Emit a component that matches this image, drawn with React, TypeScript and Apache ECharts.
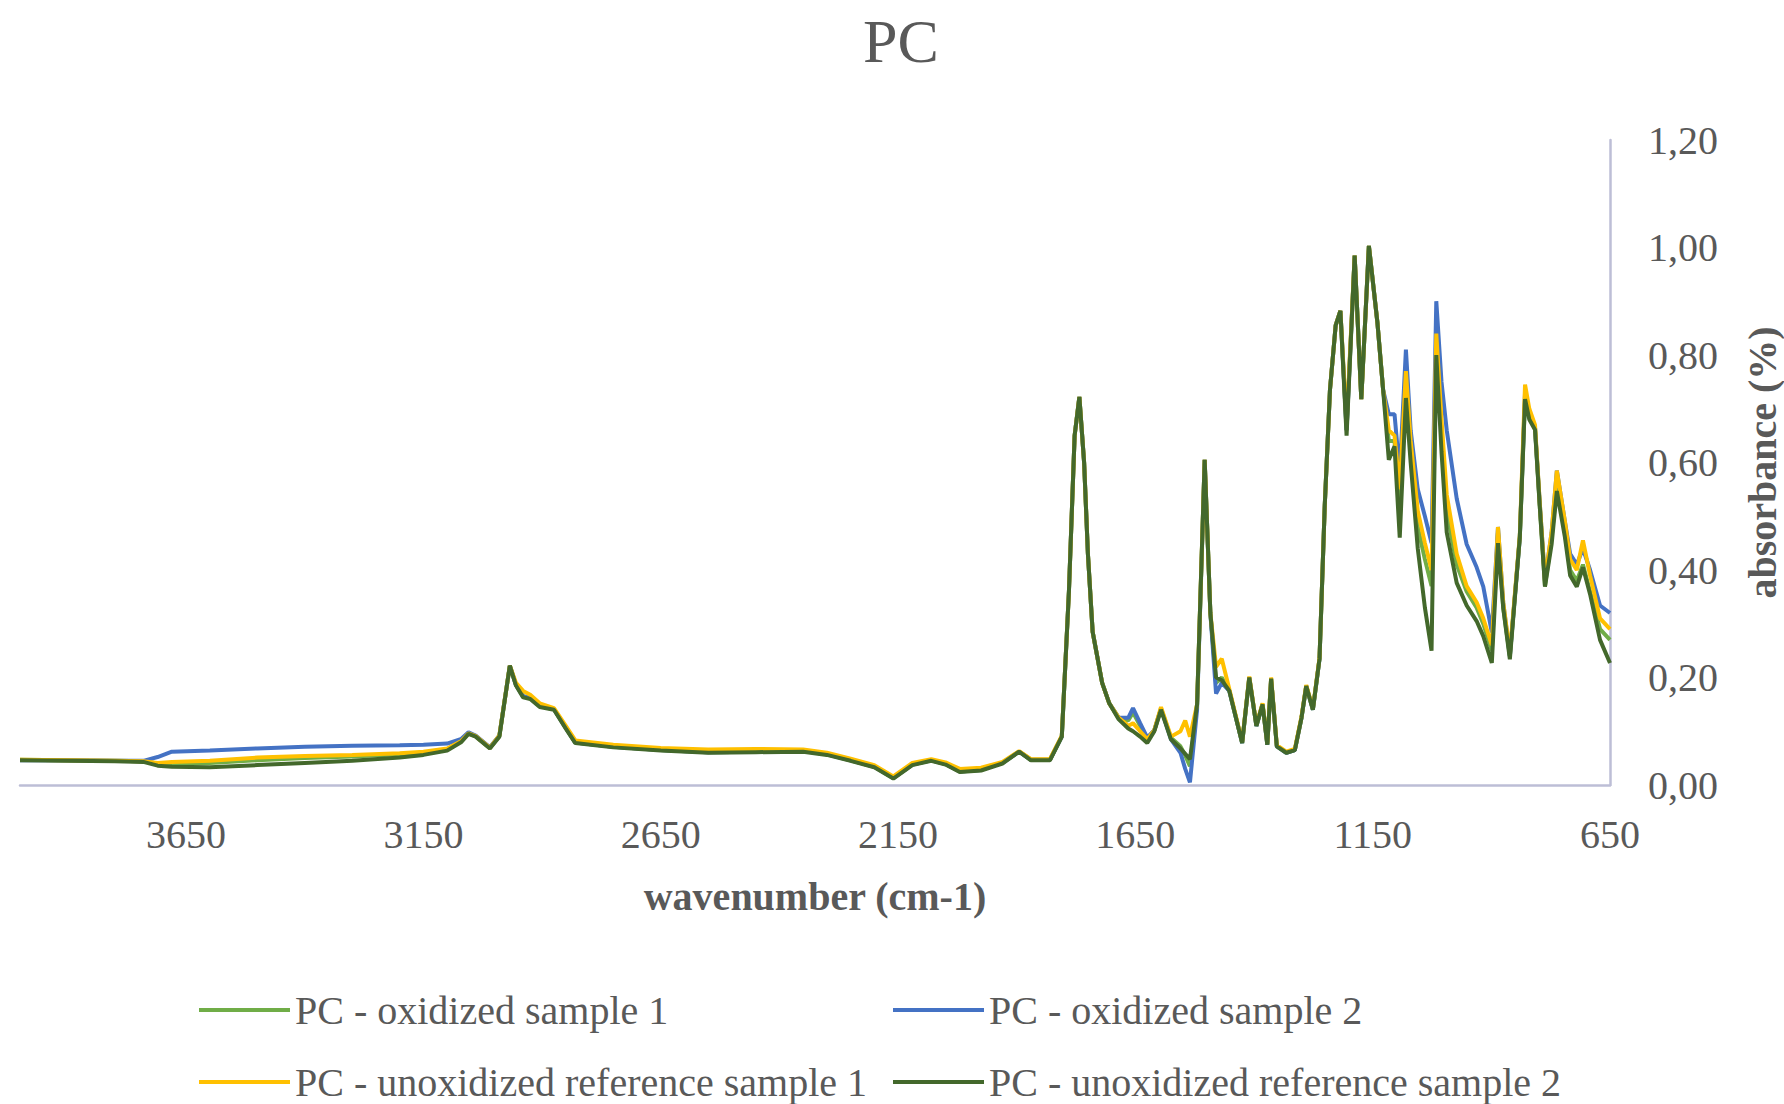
import React, { useEffect, useRef } from "react";
import * as echarts from "echarts";

const wavenumbers = [
  4000, 3900, 3800, 3740, 3710, 3680, 3600, 3500, 3400, 3300,
  3200, 3150, 3100, 3070, 3055, 3040, 3010, 2990, 2968, 2955,
  2940, 2925, 2905, 2875, 2850, 2830, 2750, 2650, 2550, 2450,
  2350, 2300, 2250, 2200, 2160, 2120, 2080, 2050, 2020, 1975,
  1930, 1895, 1870, 1830, 1805, 1790, 1778, 1768, 1758, 1750,
  1740, 1720, 1705, 1685, 1665, 1655, 1640, 1625, 1610, 1596,
  1575, 1555, 1545, 1535, 1520, 1504, 1492, 1480, 1468, 1452,
  1425, 1410, 1395, 1382, 1372, 1364, 1352, 1332, 1314, 1300,
  1290, 1276, 1262, 1251, 1240, 1228, 1218, 1205, 1188, 1174,
  1158, 1140, 1128, 1116, 1104, 1093, 1080, 1070, 1055, 1040,
  1026, 1016, 1005, 994, 973, 952, 931, 917, 899, 886,
  875, 861, 840, 829, 820, 808, 798, 787, 773, 762,
  745, 734, 720, 707, 692, 671, 650,
];

const oxidized1 = [
  0.047, 0.046, 0.045, 0.044, 0.040, 0.040, 0.041, 0.046, 0.050, 0.053,
  0.057, 0.060, 0.066, 0.082, 0.096, 0.091, 0.069, 0.091, 0.222, 0.186,
  0.165, 0.162, 0.147, 0.141, 0.106, 0.079, 0.071, 0.065, 0.061, 0.062,
  0.063, 0.057, 0.046, 0.034, 0.013, 0.038, 0.046, 0.039, 0.025, 0.028,
  0.041, 0.062, 0.047, 0.047, 0.090, 0.360, 0.650, 0.722, 0.600, 0.430,
  0.285, 0.190, 0.152, 0.125, 0.120, 0.135, 0.110, 0.085, 0.102, 0.142,
  0.088, 0.072, 0.055, 0.035, 0.150, 0.605, 0.320, 0.190, 0.200, 0.175,
  0.078, 0.200, 0.110, 0.150, 0.075, 0.198, 0.072, 0.060, 0.065, 0.125,
  0.184, 0.140, 0.235, 0.520, 0.735, 0.855, 0.882, 0.660, 0.985, 0.718,
  1.003, 0.860, 0.735, 0.640, 0.640, 0.520, 0.740, 0.620, 0.480, 0.420,
  0.370, 0.810, 0.650, 0.510, 0.410, 0.360, 0.330, 0.300, 0.250, 0.470,
  0.330, 0.240, 0.461, 0.720, 0.690, 0.665, 0.519, 0.370, 0.460, 0.560,
  0.470, 0.400, 0.380, 0.410, 0.360, 0.290, 0.270,
];

const oxidized2 = [
  0.046, 0.046, 0.045, 0.045, 0.052, 0.062, 0.064, 0.068, 0.071, 0.073,
  0.074, 0.075, 0.077, 0.086, 0.098, 0.092, 0.070, 0.092, 0.222, 0.186,
  0.165, 0.162, 0.147, 0.141, 0.106, 0.079, 0.071, 0.065, 0.061, 0.062,
  0.063, 0.057, 0.046, 0.034, 0.013, 0.038, 0.046, 0.039, 0.025, 0.028,
  0.041, 0.062, 0.047, 0.047, 0.090, 0.360, 0.650, 0.722, 0.600, 0.430,
  0.285, 0.190, 0.152, 0.125, 0.125, 0.143, 0.115, 0.088, 0.102, 0.142,
  0.085, 0.060, 0.030, 0.005, 0.140, 0.605, 0.320, 0.170, 0.190, 0.175,
  0.078, 0.200, 0.110, 0.150, 0.075, 0.198, 0.072, 0.060, 0.065, 0.125,
  0.184, 0.140, 0.235, 0.520, 0.735, 0.855, 0.882, 0.660, 0.985, 0.718,
  1.003, 0.860, 0.735, 0.690, 0.690, 0.580, 0.810, 0.660, 0.550, 0.500,
  0.450, 0.900, 0.750, 0.660, 0.533, 0.448, 0.405, 0.369, 0.284, 0.480,
  0.340, 0.240, 0.461, 0.730, 0.690, 0.665, 0.525, 0.380, 0.470, 0.585,
  0.490, 0.430, 0.410, 0.440, 0.400, 0.334, 0.320,
];

const reference1 = [
  0.047, 0.046, 0.045, 0.044, 0.041, 0.043, 0.045, 0.051, 0.054, 0.056,
  0.059, 0.062, 0.068, 0.082, 0.096, 0.091, 0.069, 0.092, 0.222, 0.190,
  0.175, 0.168, 0.152, 0.143, 0.110, 0.083, 0.075, 0.069, 0.066, 0.067,
  0.066, 0.060, 0.049, 0.037, 0.016, 0.041, 0.048, 0.042, 0.030, 0.032,
  0.043, 0.063, 0.048, 0.048, 0.092, 0.360, 0.650, 0.722, 0.600, 0.430,
  0.285, 0.190, 0.152, 0.125, 0.110, 0.115, 0.100, 0.085, 0.102, 0.145,
  0.090, 0.100, 0.120, 0.090, 0.150, 0.605, 0.320, 0.220, 0.235, 0.178,
  0.080, 0.202, 0.112, 0.152, 0.077, 0.200, 0.074, 0.062, 0.067, 0.127,
  0.186, 0.142, 0.237, 0.520, 0.735, 0.855, 0.882, 0.670, 0.985, 0.718,
  1.003, 0.860, 0.735, 0.660, 0.650, 0.550, 0.770, 0.640, 0.510, 0.450,
  0.400, 0.840, 0.680, 0.540, 0.430, 0.370, 0.340, 0.310, 0.260, 0.480,
  0.340, 0.245, 0.465, 0.745, 0.700, 0.670, 0.525, 0.380, 0.470, 0.585,
  0.490, 0.420, 0.400, 0.455, 0.390, 0.310, 0.290,
];

const reference2 = [
  0.046, 0.045, 0.044, 0.043, 0.036, 0.034, 0.033, 0.037, 0.041, 0.045,
  0.051, 0.056, 0.064, 0.080, 0.095, 0.090, 0.068, 0.090, 0.222, 0.185,
  0.163, 0.160, 0.145, 0.140, 0.105, 0.078, 0.070, 0.064, 0.060, 0.061,
  0.062, 0.056, 0.045, 0.033, 0.012, 0.037, 0.045, 0.038, 0.024, 0.027,
  0.040, 0.062, 0.046, 0.046, 0.090, 0.360, 0.650, 0.722, 0.600, 0.430,
  0.285, 0.190, 0.152, 0.122, 0.105, 0.100, 0.090, 0.078, 0.100, 0.140,
  0.085, 0.068, 0.058, 0.048, 0.150, 0.605, 0.320, 0.200, 0.195, 0.175,
  0.078, 0.200, 0.110, 0.150, 0.075, 0.198, 0.072, 0.060, 0.065, 0.125,
  0.184, 0.140, 0.235, 0.520, 0.735, 0.855, 0.882, 0.650, 0.985, 0.718,
  1.003, 0.860, 0.735, 0.605, 0.630, 0.460, 0.720, 0.600, 0.440, 0.330,
  0.250, 0.800, 0.620, 0.470, 0.376, 0.334, 0.305, 0.277, 0.227, 0.450,
  0.330, 0.234, 0.461, 0.718, 0.680, 0.661, 0.519, 0.369, 0.448, 0.547,
  0.461, 0.390, 0.369, 0.405, 0.355, 0.270, 0.227,
];

const seriesNames = [
  "PC - oxidized sample 1",
  "PC - oxidized sample 2",
  "PC - unoxidized reference sample 1",
  "PC - unoxidized reference sample 2",
];
const seriesColors = ["#70AD47", "#4472C4", "#FFC000", "#43682B"];
const xTickLabels = [650, 1150, 1650, 2150, 2650, 3150, 3650];

const FONT = "'Liberation Serif', 'Times New Roman', serif";
const TEXT = "#595959";
const AXIS = "#BDBED6";

export default function App() {
  const ref = useRef<HTMLDivElement>(null);

  useEffect(() => {
    document.body.style.margin = "0";
    const chart = echarts.init(ref.current!, null, { renderer: "svg" });
    const allValues = [oxidized1, oxidized2, reference1, reference2];
    const series = allValues.map((vals, i) => ({
      name: seriesNames[i],
      type: "line",
      symbol: "none",
      smooth: false,
      data: wavenumbers.map((w, k) => [w, vals[k]]),
      lineStyle: { color: seriesColors[i], width: 4 },
      itemStyle: { color: seriesColors[i] },
      z: 2 + i,
    }));

    const legendCommon = {
      orient: "horizontal",
      icon: "rect",
      itemWidth: 91,
      itemHeight: 4,
      textStyle: {
        fontFamily: FONT,
        fontSize: 40,
        color: TEXT,
        lineHeight: 40,
      },
    };
    const legendPos = [
      { left: 194, top: 985 },
      { left: 888, top: 985 },
      { left: 194, top: 1057 },
      { left: 888, top: 1057 },
    ];

    chart.setOption({
      animation: false,
      backgroundColor: "#ffffff",
      title: {
        text: "PC",
        left: 896,
        textAlign: "center",
        top: 5,
        textStyle: {
          fontFamily: FONT,
          fontSize: 62,
          fontWeight: "normal",
          color: TEXT,
        },
      },
      legend: seriesNames.map((n, i) => ({
        ...legendCommon,
        ...legendPos[i],
        data: [n],
      })),
      grid: {
        left: 20,
        right: 174,
        top: 140,
        bottom: 319,
        containLabel: false,
        outerBoundsMode: "none",
      },
      xAxis: {
        type: "value",
        inverse: true,
        min: 650,
        max: 4000,
        splitLine: { show: false },
        axisTick: { show: false },
        axisLine: { show: true, lineStyle: { color: AXIS, width: 2.5 } },
        axisLabel: {
          customValues: xTickLabels,
          fontFamily: FONT,
          fontSize: 40,
          color: TEXT,
          margin: 29,
          formatter: (v: number) => String(v),
        },
        name: "wavenumber (cm-1)",
        nameLocation: "middle",
        nameGap: 91,
        nameTextStyle: {
          fontFamily: FONT,
          fontSize: 40,
          fontWeight: "bold",
          color: TEXT,
        },
      },
      yAxis: {
        type: "value",
        position: "right",
        min: 0,
        max: 1.2,
        interval: 0.2,
        splitLine: { show: false },
        axisTick: { show: false },
        axisLine: { show: true, lineStyle: { color: AXIS, width: 2.5 } },
        axisLabel: {
          fontFamily: FONT,
          fontSize: 40,
          color: TEXT,
          margin: 38,
          formatter: (v: number) => v.toFixed(2).replace(".", ","),
        },
        name: "absorbance (%)",
        nameLocation: "middle",
        nameRotate: 90,
        nameGap: 132,
        nameTextStyle: {
          fontFamily: FONT,
          fontSize: 40,
          fontWeight: "bold",
          color: TEXT,
        },
      },
      series,
    });
    return () => chart.dispose();
  }, []);

  return (
    <div
      ref={ref}
      style={{ position: "fixed", left: 0, top: 0, width: 1784, height: 1104 }}
    />
  );
}
